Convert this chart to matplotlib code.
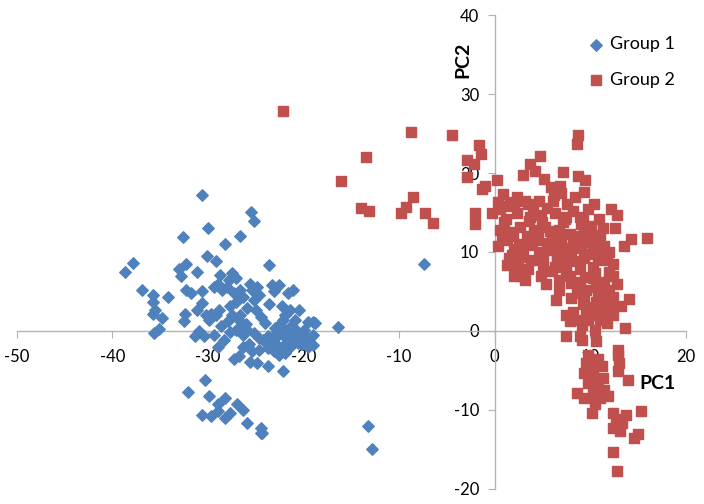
import matplotlib.pyplot as plt

# Group 1 (blue diamonds)
g1_x = [-30.6, -25.5, -25.2, -30.0, -32.6, -26.6, -28.2, -30.1, -29.2, -37.9,
        -38.7, -23.6, -33.0, -32.3, -31.1, -32.8, -36.9, -35.8, -34.2, -35.8,
        -35.5, -35.8, -34.8, -35.1, -35.6, -32.4, -32.5, -32.3, -31.8, -30.6,
        -30.6, -31.1, -30.2, -29.7, -29.2, -29.9, -29.4, -29.0, -28.7, -28.5,
        -28.0, -27.8, -27.5, -27.1, -27.3, -26.6, -26.3, -27.1, -25.6, -25.4,
        -24.9, -24.7, -25.2, -23.6, -23.3, -22.6, -23.1, -21.6, -21.1, -22.3,
        -21.4, -20.5, -21.9, -22.1, -20.9, -19.5, -19.0, -18.8, -16.4, -27.7,
        -27.5, -26.6, -25.9, -25.0, -24.5, -26.3, -27.1, -27.7, -25.9, -26.3,
        -25.2, -24.7, -23.7, -22.8, -22.3, -21.9, -21.4, -20.9, -20.4, -19.5,
        -19.0, -19.5, -23.3, -22.8, -21.9, -21.4, -22.1, -25.7, -26.3, -25.4,
        -24.7, -23.7, -22.6, -21.9, -27.3, -26.8, -25.6, -24.9, -23.7, -22.2,
        -29.0, -28.3, -30.4, -31.4, -29.4, -30.3, -32.1, -29.9, -28.2, -28.9,
        -27.0, -26.3, -30.6, -29.7, -28.9, -27.7, -28.2, -25.9, -24.5, -24.5,
        -24.3, -13.3, -12.8, -7.4, -22.8, -21.6, -20.9, -20.0, -19.3, -19.0,
        -20.2, -21.1, -22.3, -23.1, -26.0, -27.9, -28.6, -24.0, -23.0, -21.5,
        -21.0, -20.6, -22.0, -22.6, -21.3, -20.1, -24.2, -26.9, -28.8, -30.9]
g1_y = [17.2, 15.1, 13.9, 13.0, 11.9, 12.0, 11.0, 9.5, 8.8, 8.6,
        7.5, 8.4, 7.8, 8.5, 7.5, 6.9, 5.2, 4.5, 4.3, 3.7,
        2.7, 2.2, 1.6, 0.3, -0.2, 2.2, 1.2, 5.2, 4.8, 5.0,
        3.5, 2.7, 2.0, 2.2, 2.0, 1.4, 5.6, 6.0, 7.1, 5.2,
        5.6, 6.4, 7.3, 6.7, 4.8, 5.2, 4.3, 3.7, 6.0, 5.2,
        5.6, 4.5, 3.9, 3.4, 5.8, 5.8, 5.0, 4.8, 5.2, 3.1,
        2.7, 2.6, 2.0, 1.4, 1.4, 1.1, 1.1, 1.0, 0.5, 3.1,
        2.0, 2.0, 2.9, 2.7, 1.8, 0.8, 0.1, -0.1, 0.1, -0.5,
        -0.3, -0.9, -0.7, -0.1, 0.3, 0.1, -0.3, -0.7, -1.1, -1.3,
        -1.8, -2.0, -1.3, -1.8, -1.6, -2.0, -2.4, -1.6, -2.0, -2.6,
        -2.4, -2.2, -3.0, -2.8, -3.5, -3.2, -3.9, -4.1, -4.5, -5.1,
        -2.0, -1.1, -0.7, -0.7, -0.5, -6.2, -7.7, -8.3, -8.5, -9.3,
        -9.3, -10.0, -10.6, -10.8, -10.2, -10.4, -11.0, -11.7, -12.3, -12.9,
        -12.9, -12.0, -15.0, 8.5, -0.7, -0.9, 0.3, 0.1, -0.9, -0.5,
        -1.6, -1.1, -2.2, -2.6, 0.9, 1.2, 0.6, 1.0, 0.4, -0.1,
        -0.2, -1.5, -0.6, 0.8, 0.6, -0.4, -1.2, 1.5, 2.6, 0.0]

# Group 2 (red squares)
g2_x = [-22.1, -8.8, -4.5, -13.5, -16.1, -14.0, -13.1, -9.8, -9.3, -8.5,
        -7.3, -6.5, -2.9, -1.6, -1.4, -2.9, -2.2, -1.3, -1.0, -2.1,
        -2.1, -0.3, 0.3, 8.7, 8.6, 4.8, 3.7, 7.2, 3.0, 4.2,
        8.7, 9.5, 5.2, 6.8, 5.9, 9.4, 8.4, 0.9, 2.3, 0.4,
        1.6, 3.5, 4.6, 6.1, 7.6, 10.4, 9.8, 12.2, 12.8, 10.9,
        0.6, 2.3, 3.7, 4.9, 6.3, 7.5, 8.9, 0.6, 1.6, 2.7,
        4.1, 5.3, 6.7, 7.9, 9.4, 11.3, 12.6, 14.3, 15.9, 13.5,
        0.4, 1.3, 2.0, 3.0, 3.9, 4.6, 5.8, 7.0, 8.2, 9.4,
        10.3, 11.5, 1.8, 3.0, 5.1, 6.5, 7.9, 9.4, 10.8, 11.8,
        1.3, 2.3, 3.5, 5.1, 6.3, 7.5, 8.9, 10.3, 12.4, 2.0,
        2.7, 3.2, 4.9, 5.4, 6.7, 7.9, 8.9, 10.3, 11.5, 12.4,
        6.7, 8.6, 9.6, 10.8, 12.0, 6.4, 9.4, 10.6, 12.4, 14.1,
        11.0, 12.2, 13.2, 9.6, 8.2, 7.5, 11.2, 12.4, 7.9, 8.9,
        9.8, 11.0, 9.1, 13.6, 10.5, 7.5, 8.9, 9.1, 10.6, 12.9,
        12.9, 9.8, 10.8, 9.6, 10.3, 11.2, 13.0, 12.9, 9.4, 10.3,
        11.3, 14.0, 9.8, 10.8, 11.5, 8.6, 10.3, 9.4, 11.0, 11.9,
        10.5, 10.2, 12.4, 15.3, 12.7, 13.7, 13.3, 12.4, 13.1, 14.6,
        15.0, 12.4, 12.8, 6.0, 7.0, 8.0, 9.0, 10.0, 6.5, 7.5,
        8.5, 9.5, 10.5, 11.0, 5.5, 4.5, 7.2, 8.2, 9.0, 10.0,
        11.0, 12.0, 12.0, 11.5, 9.9, 7.0, 6.2, 5.5, 4.0, 3.2,
        2.0, 1.0, 0.8, 1.5, 2.5, 3.8, 8.0, 10.2, 11.8,
        5.0, 5.8, 6.6, 7.4, 8.3, 9.2, 10.1, 4.3, 5.6, 6.9,
        7.7, 8.6, 9.7, 10.9, 3.4, 4.8, 6.0, 7.1, 8.0, 11.2,
        2.6, 3.6, 1.9, 0.9, 1.2, 8.8, 10.6, 11.7, 12.8, 9.3]
g2_y = [27.8, 25.2, 24.8, 22.0, 19.0, 15.6, 15.2, 14.9, 15.7, 17.0,
        14.9, 13.7, 21.7, 23.5, 22.4, 19.5, 21.2, 18.0, 18.4, 14.9,
        13.6, 14.9, 19.1, 24.8, 23.7, 22.2, 21.2, 20.1, 19.7, 20.3,
        19.6, 19.1, 19.3, 18.4, 18.2, 17.6, 17.0, 17.4, 17.0, 16.3,
        16.3, 16.1, 16.5, 16.5, 16.1, 16.1, 15.4, 15.4, 14.7, 14.2,
        15.4, 14.9, 14.4, 14.7, 14.9, 14.4, 14.4, 12.8, 12.5, 13.2,
        12.8, 13.2, 12.8, 12.3, 12.8, 13.0, 13.0, 11.7, 11.8, 10.7,
        10.7, 11.5, 10.4, 10.7, 10.9, 10.0, 10.2, 10.9, 11.1, 11.3,
        10.7, 10.7, 9.6, 9.4, 9.2, 9.4, 9.4, 9.2, 9.4, 9.6,
        8.3, 7.9, 7.9, 8.1, 8.1, 8.1, 7.9, 8.1, 8.5, 6.9,
        6.9, 6.4, 6.9, 6.0, 6.4, 6.9, 6.2, 6.7, 6.2, 6.9,
        5.2, 4.8, 5.2, 4.8, 5.2, 3.9, 4.1, 3.7, 4.3, 4.1,
        3.1, 2.9, 3.1, 2.4, 2.4, 2.0, 2.0, 2.0, 1.2, 1.4,
        1.4, 1.4, 0.8, 0.4, 0.1, -0.6, -0.7, -1.2, -1.3, -2.4,
        -3.0, -3.0, -3.5, -4.1, -4.5, -4.4, -4.1, -5.1, -5.3, -5.8,
        -6.0, -6.2, -6.6, -7.0, -7.5, -7.9, -7.9, -8.5, -8.5, -8.3,
        -9.3, -10.4, -10.4, -10.2, -11.2, -10.6, -11.7, -12.3, -12.7, -13.6,
        -13.1, -15.3, -17.7, 12.0, 11.5, 10.0, 10.5, 9.8, 8.8, 7.2,
        8.8, 6.8, 7.3, 5.6, 11.2, 12.2, 13.8, 15.2, 13.5, 12.0,
        11.8, 10.0, 7.5, 3.8, 3.0, 17.5, 17.2, 15.6, 15.2, 16.5,
        15.8, 13.8, 11.8, 9.2, 8.8, 9.0, 4.2, 2.0, 1.0,
        13.8, 12.6, 11.0, 14.2, 11.8, 14.0, 13.3, 11.5, 10.6, 9.9,
        10.5, 12.0, 11.9, 12.2, 12.0, 9.0, 7.6, 8.5, 6.1, 9.0,
        11.0, 13.9, 12.0, 15.8, 14.2, 10.8, 5.6, 4.0, 6.0, 3.4]

x_ticks = [-50, -40, -30, -20, -10, 0, 10, 20]
y_ticks = [-20, -10, 0, 10, 20, 30, 40]

plt.rcParams['font.family'] = ['Lato', 'DejaVu Sans']
plt.rcParams['axes.unicode_minus'] = False

fig = plt.figure(figsize=(7.04, 5.04), dpi=100)
ax = fig.add_axes([0.024, 0.030, 0.95, 0.940])

ax.scatter(g1_x, g1_y, marker='D', s=34, color='#4F81BD', label='Group 1', zorder=3)
ax.scatter(g2_x, g2_y, marker='s', s=46, color='#C0504D', label='Group 2', zorder=3)

ax.set_xlim(-50, 20)
ax.set_ylim(-20, 40)
ax.set_xticks(x_ticks)
ax.set_yticks(y_ticks)

# axes cross at the origin, Excel style
ax.spines['left'].set_position(('data', 0))
ax.spines['bottom'].set_position(('data', 0))
ax.spines['right'].set_visible(False)
ax.spines['top'].set_visible(False)
for s in ['left', 'bottom']:
    ax.spines[s].set_color('#b3b3b3')
    ax.spines[s].set_linewidth(1.0)
ax.tick_params(direction='out', length=5, color='#b3b3b3', labelsize=12, labelcolor='black')
ax.tick_params(axis='x', pad=8)
ax.tick_params(axis='y', pad=6)

ax.text(17.0, -6.6, 'PC1', fontsize=14, fontweight='bold', ha='center', va='center')
ax.text(-3.3, 34.3, 'PC2', fontsize=14, fontweight='bold', ha='center', va='center', rotation=90)

ax.legend(loc='upper right', frameon=False, fontsize=13, handletextpad=0.2,
          handlelength=1.2, labelspacing=1.1, borderaxespad=0.2,
          bbox_to_anchor=(1.0, 0.978))

fig.savefig('out.png', dpi=100)
